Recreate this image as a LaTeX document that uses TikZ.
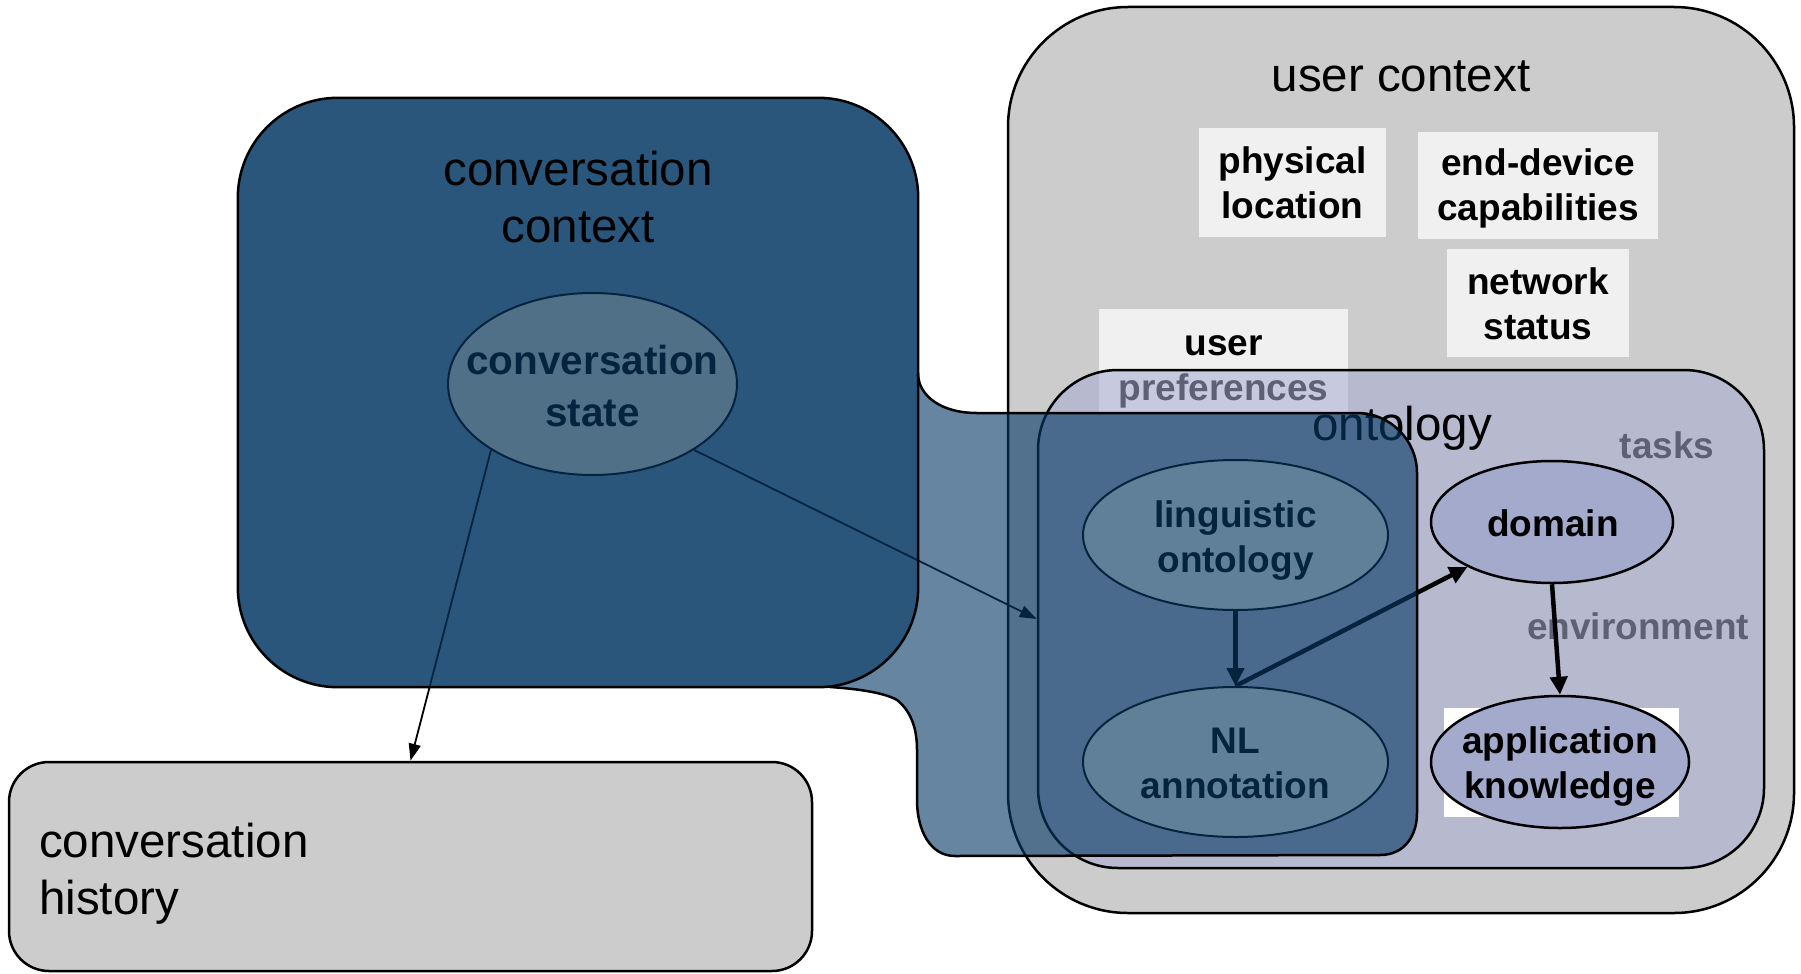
\documentclass[tikz,border=0pt]{standalone}
\usepackage{fontspec}
\setmainfont{Liberation Sans}
\usetikzlibrary{shapes.geometric,arrows.meta}

\definecolor{ucgray}{RGB}{204,204,204}
\definecolor{tagfill}{RGB}{240,240,240}
\definecolor{ontofill}{RGB}{168,173,211}
\definecolor{domfill}{RGB}{163,170,204}
\definecolor{ccbase}{RGB}{101,133,160}
\definecolor{ccveil}{RGB}{7,58,102}
\definecolor{statefill}{RGB}{200,200,190}
\definecolor{lingfill}{RGB}{242,242,234}

\newcommand{\regfont}{\fontsize{47.5}{57}\selectfont}
\newcommand{\tagfont}{\fontsize{37}{45}\selectfont\bfseries}
\newcommand{\statefont}{\fontsize{40.5}{52}\selectfont\bfseries}
% strut of fixed height/depth so that multi-line labels centre predictably
\newcommand{\lstrut}{\rule[-0.25em]{0pt}{1em}}

\tikzset{
  outline/.style={draw=black, line width=2.5pt},
  tagbox/.style={rectangle, fill=tagfill, inner sep=0pt},
  txt/.style={inner sep=0pt, align=center},
  ell/.style={ellipse, inner sep=0pt, draw=black, line width=2pt},
  thinarrow/.style={draw=black, line width=1.8pt, -{Triangle[length=17pt,width=12pt]}},
  thickarrow/.style={draw=black, line width=4.5pt, -{Triangle[length=18pt,width=17pt]}},
}

\begin{document}
\begin{tikzpicture}[x=1pt,y=-1pt]
\useasboundingbox (0,0) rectangle (1801,974);

% user context frame
\node[rectangle, rounded corners=120pt, fill=ucgray, outline, inner sep=0pt,
      minimum width=786pt, minimum height=906pt] (uc) at (1401,460) {};
\node[txt, font=\regfont] (uclabel) at (1401,80) {\lstrut user context};

% context facets
\node[tagbox, minimum width=187pt, minimum height=109pt] (loc) at (1292.5,182.5) {};
\node[txt, font=\tagfont] (loctext) at (1292.5,187) {\lstrut physical\\\lstrut location};
\node[tagbox, minimum width=240pt, minimum height=107pt] (dev) at (1538,185.5) {};
\node[txt, font=\tagfont] (devtext) at (1538,189) {\lstrut end-device\\\lstrut capabilities};
\node[tagbox, minimum width=182pt, minimum height=108pt] (net) at (1538,303) {};
\node[txt, font=\tagfont] (nettext) at (1538,308) {\lstrut network\\\lstrut status};
\node[tagbox, minimum width=249pt, minimum height=105pt] (pref) at (1223.5,361.5) {};
\node[txt, font=\tagfont] (preftext) at (1223.5,369) {\lstrut user\\\lstrut preferences};

\node[txt, font=\tagfont] (tasks) at (1667,449) {\lstrut tasks};
\node[txt, font=\tagfont] (envir) at (1638,630) {\lstrut environment};

% ontology frame (translucent)
\node[rectangle, rounded corners=80pt, fill=ontofill, fill opacity=0.56, outline,
      inner sep=0pt, minimum width=726pt, minimum height=498pt] (onto) at (1401,619) {};
\node[txt, font=\regfont] (ontolabel) at (1402,429) {\lstrut ontology};

% domain side
\node[rectangle, fill=white, inner sep=0pt, minimum width=235pt, minimum height=109pt] (appbg) at (1561.5,762.5) {};
\node[ell, fill=domfill, line width=2.5pt, minimum width=242pt, minimum height=122pt] (dom) at (1552,522) {};
\node[txt, font=\tagfont] (domtext) at (1553,527) {\lstrut domain};
\node[ell, fill=domfill, line width=2.5pt, minimum width=258pt, minimum height=132pt] (app) at (1560,762) {};
\node[txt, font=\tagfont] (apptext) at (1560,767) {\lstrut application\\\lstrut knowledge};
\draw[thickarrow] (dom.south) -- (app.north);

% conversation history
\node[rectangle, rounded corners=40pt, fill=ucgray, outline, inner sep=0pt,
      minimum width=803pt, minimum height=209pt] (hist) at (410.5,866.5) {};
\node[txt, align=left, anchor=west, font=\regfont] (histtext) at (39,874)
     {\lstrut conversation\\\lstrut history};

% conversation context base
\node[rectangle, rounded corners=100pt, fill=ccbase, inner sep=0pt,
      minimum width=680pt, minimum height=589pt] (cc) at (578,392.5) {};

\node[ell, fill=statefill, minimum width=289pt, minimum height=182pt] (cs) at (592.5,384) {};
\node[txt, font=\statefont] (cstext) at (592.5,390) {\lstrut conversation\\\lstrut state};

\node[ell, fill=lingfill, minimum width=305pt, minimum height=150pt] (lo) at (1235.5,535) {};
\node[txt, font=\tagfont] (lotext) at (1235.5,541) {\lstrut linguistic\\\lstrut ontology};
\node[ell, fill=lingfill, minimum width=305pt, minimum height=150pt] (nl) at (1235.5,762) {};
\node[txt, font=\tagfont] (nltext) at (1235.5,767) {\lstrut NL\\\lstrut annotation};

\draw[thinarrow] (cs.213) -- (hist.north);
\draw[thinarrow] (cs.327) -- (onto.west);
\draw[thickarrow] (lo.south) -- (nl.north);
\draw[thickarrow] (nl.north) -- (dom.208);

% translucent conversation-context veil
\fill[ccveil, fill opacity=0.62]
  (238,198) .. controls (238,143) and (283,98) .. (338,98)
  -- (818,98) .. controls (873,98) and (918,143) .. (918,198)
  -- (918,373) .. controls (918,395) and (940,413) .. (977,413)
  -- (1357,413) .. controls (1390,413) and (1417,440) .. (1417,473)
  -- (1417,813) .. controls (1417,835) and (1405,855) .. (1380,855)
  -- (955,856) .. controls (930,856) and (917,830) .. (917,800)
  -- (917,750) .. controls (917,730) and (912,712) .. (897,700)
  .. controls (885,693) and (860,689) .. (830,687)
  -- (338,687) .. controls (283,687) and (238,642) .. (238,587) -- cycle;

% outlines of the conversation context
\draw[outline, rounded corners=100pt] (cc.north west) rectangle (cc.south east);
\draw[outline]
  (918,373) .. controls (918,395) and (940,413) .. (977,413)
  -- (1357,413) .. controls (1390,413) and (1417,440) .. (1417,473)
  -- (1417,813) .. controls (1417,835) and (1405,855) .. (1380,855)
  -- (955,856) .. controls (930,856) and (917,830) .. (917,800)
  -- (917,750) .. controls (917,730) and (912,712) .. (897,700)
  .. controls (885,693) and (860,689) .. (830,687);

\node[txt, font=\regfont] (cctext) at (578,202.5) {\lstrut conversation\\\lstrut context};
\end{tikzpicture}
\end{document}
